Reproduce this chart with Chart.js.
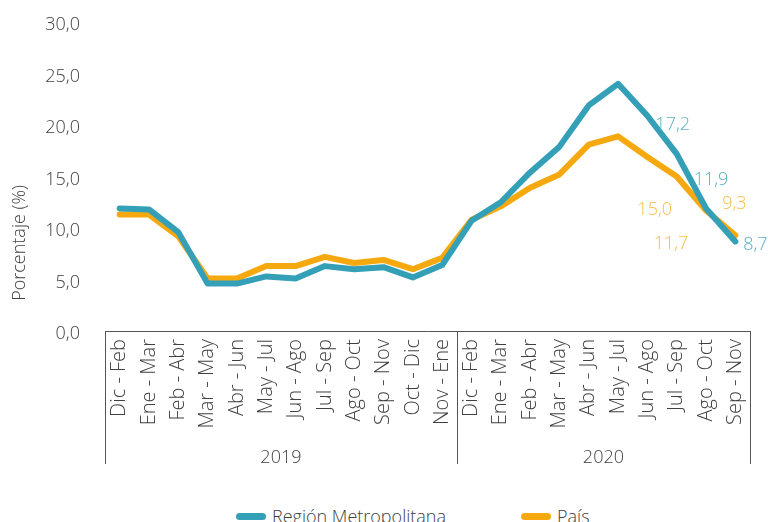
<!DOCTYPE html>
<html lang="es">
<head>
<meta charset="utf-8">
<title>Porcentaje - Región Metropolitana y País</title>
<script src="https://cdn.jsdelivr.net/npm/chart.js@4.4.0/dist/chart.umd.min.js"></script>
<style>
    html, body { margin: 0; padding: 0; background: #ffffff; overflow: hidden; }
    #chart-wrap { width: 768px; height: 464px; position: relative; }
    #leyenda {
        position: absolute; left: 236px; top: 503px;
        display: flex; gap: 75px;
        font-family: "Open Sans", "Noto Sans", sans-serif; font-weight: 300;
        font-size: 18px; color: #404040; line-height: 26px; white-space: nowrap;
    }
    #leyenda .item { display: flex; align-items: center; }
    #leyenda .marca { width: 30px; height: 7px; border-radius: 4px; margin-right: 6px; }
</style>
</head>
<body>
<div id="chart-wrap"><canvas id="myChart"></canvas></div>
<div id="leyenda"></div>
<script>
// Trimestres móviles
const periodos = [
    'Dic - Feb', 'Ene - Mar', 'Feb - Abr', 'Mar - May', 'Abr - Jun', 'May - Jul',
    'Jun - Ago', 'Jul - Sep', 'Ago - Oct', 'Sep - Nov', 'Oct - Dic', 'Nov - Ene',
    'Dic - Feb', 'Ene - Mar', 'Feb - Abr', 'Mar - May', 'Abr - Jun', 'May - Jul',
    'Jun - Ago', 'Jul - Sep', 'Ago - Oct', 'Sep - Nov'
];
const anios = ['2019', '2020'];
const periodosPorAnio = [12, 10];

const regionMetropolitana = [11.9, 11.8, 9.6, 4.6, 4.6, 5.3, 5.1, 6.3, 6.0, 6.2, 5.2, 6.4,
    10.7, 12.5, 15.4, 17.9, 21.9, 24.0, 20.9, 17.2, 11.9, 8.7];
const pais = [11.3, 11.3, 9.2, 5.1, 5.1, 6.3, 6.3, 7.2, 6.6, 6.9, 6.0, 7.1,
    10.8, 12.1, 13.9, 15.2, 18.1, 18.9, 16.9, 15.0, 11.7, 9.3];

// Puntos que llevan etiqueta de valor
const etiquetados = [19, 20, 21];

const yTicks = [0, 5, 10, 15, 20, 25, 30];
const tituloY = 'Porcentaje (%)';

document.addEventListener('DOMContentLoaded', function() {
    const ctx = document.getElementById('myChart').getContext('2d');
    const fuente = '"Open Sans", "Noto Sans", sans-serif';
    const gris = '#404040';

    function formato(v) {
        return v.toFixed(1).replace('.', ',');
    }

    // Caja de años bajo el eje X y título del eje Y
    const agrupador = {
        id: 'agrupador',
        afterDraw(chart) {
            const x = chart.scales.x;
            const y = chart.scales.y;
            const c = chart.ctx;
            const top = x.top;
            const bottom = x.bottom;
            c.save();
            c.strokeStyle = '#555555';
            c.lineWidth = 1;
            c.beginPath();
            c.moveTo(x.left, top + 0.5);
            c.lineTo(x.right, top + 0.5);
            let inicio = 0;
            const bordes = [x.getPixelForValue(-0.5)];
            periodosPorAnio.forEach(n => {
                inicio += n;
                bordes.push(x.getPixelForValue(inicio - 0.5));
            });
            bordes.forEach(px => {
                const p = Math.round(px) + 0.5;
                c.moveTo(p, top);
                c.lineTo(p, bottom);
            });
            c.stroke();

            c.fillStyle = gris;
            c.font = '300 18px ' + fuente;
            c.textAlign = 'center';
            c.textBaseline = 'middle';
            anios.forEach((a, i) => {
                c.fillText(a, (bordes[i] + bordes[i + 1]) / 2, bottom - 6);
            });

            // título centrado sobre todo el alto del gráfico
            c.translate(y.left + 20, (y.top + x.bottom) / 2);
            c.rotate(-Math.PI / 2);
            c.fillText(tituloY, 0, 0);
            c.restore();
        }
    };

    // Etiquetas de los últimos valores
    const desplazamientos = [
        [[-4, -30], [5, -30], [20, 2]],
        [[-22, 32], [-35, 32], [-1, -32]]
    ];
    const coloresEtiqueta = ['#5aafc5', '#f7bd45'];

    const etiquetas = {
        id: 'etiquetas',
        afterDatasetsDraw(chart) {
            const c = chart.ctx;
            c.save();
            c.font = '300 18px ' + fuente;
            c.textAlign = 'center';
            c.textBaseline = 'middle';
            chart.data.datasets.forEach((ds, d) => {
                const meta = chart.getDatasetMeta(d);
                c.fillStyle = coloresEtiqueta[d];
                etiquetados.forEach((idx, k) => {
                    const pt = meta.data[idx];
                    const off = desplazamientos[d][k];
                    c.fillText(formato(ds.data[idx]), pt.x + off[0], pt.y + off[1] + 1);
                });
            });
            c.restore();
        }
    };

    const grafico = new Chart(ctx, {
        type: 'line',
        data: {
            labels: periodos,
            datasets: [{
                label: 'Región Metropolitana',
                data: regionMetropolitana,
                borderColor: '#34a0b8',
                backgroundColor: '#34a0b8',
                borderWidth: 6,
                borderJoinStyle: 'round',
                borderCapStyle: 'round',
                pointRadius: 0,
                tension: 0
            }, {
                label: 'País',
                data: pais,
                borderColor: '#f5a90f',
                backgroundColor: '#f5a90f',
                borderWidth: 6,
                borderJoinStyle: 'round',
                borderCapStyle: 'round',
                pointRadius: 0,
                tension: 0
            }]
        },
        options: {
            responsive: true,
            maintainAspectRatio: false,
            animation: false,
            layout: {
                padding: { top: 22, right: 18, left: 0, bottom: 0 }
            },
            plugins: {
                tooltip: { enabled: false },
                legend: { display: false }
            },
            scales: {
                x: {
                    offset: true,
                    grid: { display: false, drawTicks: false },
                    border: { display: false },
                    ticks: {
                        color: gris,
                        font: { family: fuente, size: 20, weight: '300' },
                        minRotation: 90,
                        maxRotation: 90,
                        autoSkip: false,
                        padding: 8
                    },
                    afterFit(scale) {
                        scale.height = 133;
                    }
                },
                y: {
                    min: 0,
                    max: 30,
                    afterBuildTicks(scale) {
                        scale.ticks = yTicks.map(v => ({ value: v }));
                    },
                    grid: { display: false, drawTicks: false },
                    border: { display: false },
                    ticks: {
                        color: gris,
                        font: { family: fuente, size: 18, weight: '300' },
                        padding: 25,
                        labelOffset: 3,
                        callback: v => formato(v)
                    },
                    afterFit(scale) {
                        scale.width = 105;
                        scale.paddingTop = 0;
                        scale.paddingBottom = 0;
                    }
                }
            }
        },
        plugins: [agrupador, etiquetas]
    });

    // Leyenda construida a partir de las series
    const leyenda = document.getElementById('leyenda');
    grafico.data.datasets.forEach(ds => {
        const item = document.createElement('span');
        item.className = 'item';
        const marca = document.createElement('span');
        marca.className = 'marca';
        marca.style.background = ds.borderColor;
        const texto = document.createElement('span');
        texto.textContent = ds.label;
        item.appendChild(marca);
        item.appendChild(texto);
        leyenda.appendChild(item);
    });
});
</script>
</body>
</html>
